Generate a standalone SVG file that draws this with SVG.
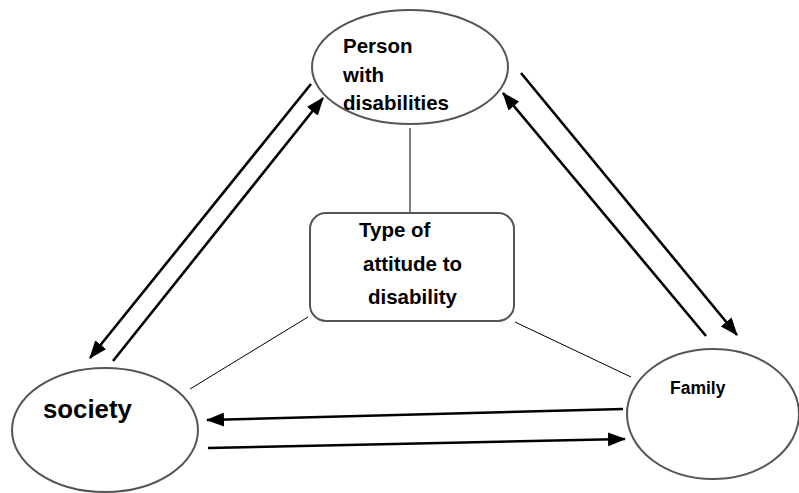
<svg xmlns="http://www.w3.org/2000/svg" width="799" height="493" viewBox="0 0 799 493">
<style>
.node{fill:#fff;stroke:#555;stroke-width:2}
.lbl{font-family:"Liberation Sans",Arial,sans-serif;font-weight:bold;fill:#000}
.arr{stroke:#000;stroke-width:2.6;fill:none;marker-end:url(#ah)}
.thin{stroke:#000;stroke-width:1;fill:none}
</style>
<defs>
<marker id="ah" markerUnits="userSpaceOnUse" markerWidth="18" markerHeight="14" viewBox="0 0 18 14" refX="17" refY="7" orient="auto">
<path d="M0,0 L18,7 L0,14 z" fill="#000"/>
</marker>
</defs>
<rect width="799" height="493" fill="#fff"/>
<g id="connectors">
<line class="thin" x1="410" y1="128" x2="410" y2="213"/>
<line class="thin" x1="308" y1="317" x2="190" y2="389"/>
<line class="thin" x1="515" y1="322" x2="631" y2="377"/>
<line class="arr" x1="311" y1="84" x2="90" y2="358"/>
<line class="arr" x1="113" y1="361" x2="323" y2="98"/>
<line class="arr" x1="521" y1="73" x2="737" y2="335"/>
<line class="arr" x1="706" y1="336" x2="503" y2="93"/>
<line class="arr" x1="623" y1="409" x2="207" y2="420"/>
<line class="arr" x1="208" y1="448" x2="625" y2="439"/>
</g>
<g id="person">
<ellipse class="node" cx="410" cy="67" rx="98" ry="57"/>
<text class="lbl" font-size="20.5"><tspan x="343" y="53">Person</tspan><tspan x="343" y="82">with</tspan><tspan x="343" y="110">disabilities</tspan></text>
</g>
<g id="attitude">
<rect class="node" x="310" y="213" width="204" height="108" rx="16" ry="16"/>
<text class="lbl" font-size="20.5"><tspan x="359" y="237">Type of</tspan><tspan x="363" y="271">attitude to</tspan><tspan x="368" y="304">disability</tspan></text>
</g>
<g id="society">
<ellipse class="node" cx="105" cy="430" rx="93" ry="62"/>
<text class="lbl" font-size="25.8" x="43" y="418">society</text>
</g>
<g id="family">
<ellipse class="node" cx="713" cy="414" rx="86" ry="65"/>
<text class="lbl" font-size="17.5" x="670" y="394">Family</text>
</g>
</svg>
